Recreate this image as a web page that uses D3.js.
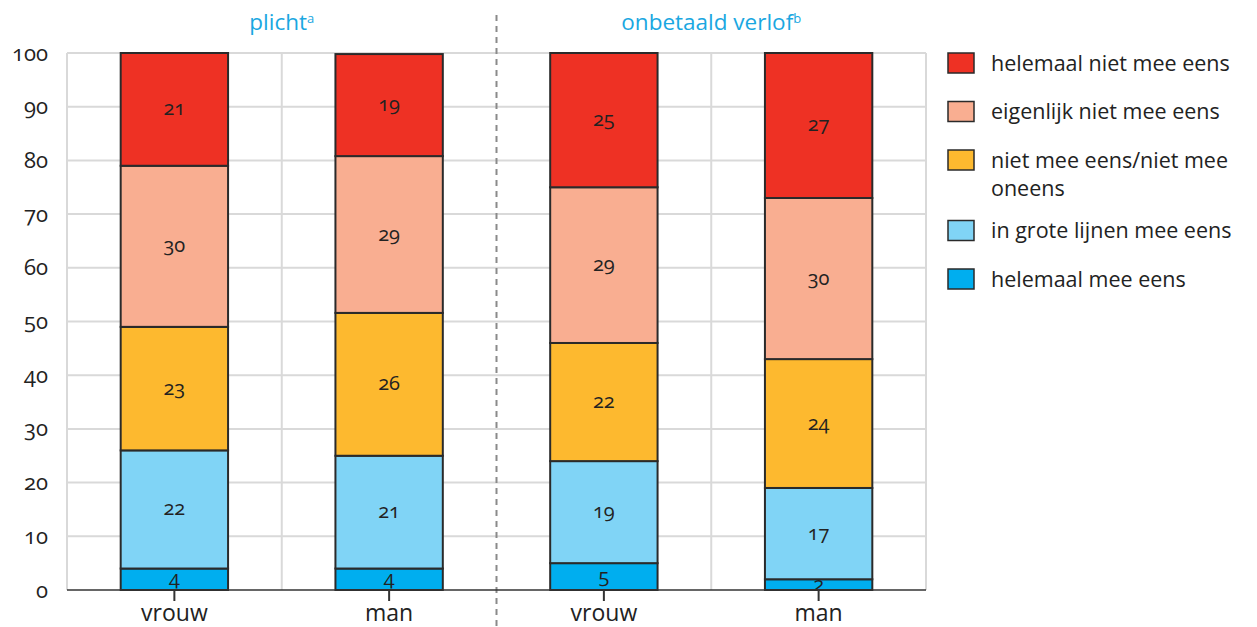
<!DOCTYPE html>
<html>
<head>
<meta charset="utf-8">
<script src="https://cdn.jsdelivr.net/npm/d3@7"></script>
<style>
  body { margin: 0; background: #fff; }
  svg text { font-family: "Open Sans", "Noto Sans", sans-serif; fill: #222; }
  .num { font-feature-settings: "onum" 1; font-variant-numeric: oldstyle-nums; }
</style>
</head>
<body>
<div id="chart"></div>
<script>
// categories
const groups = ["plicht", "onbetaald verlof"];
const groupNotes = ["a", "b"];
const bars = [
    { group: "plicht", sex: "vrouw" },
    { group: "plicht", sex: "man" },
    { group: "onbetaald verlof", sex: "vrouw" },
    { group: "onbetaald verlof", sex: "man" }
];
// answer categories, bottom to top
const answers = [
    "helemaal mee eens",
    "in grote lijnen mee eens",
    "niet mee eens/niet mee oneens",
    "eigenlijk niet mee eens",
    "helemaal niet mee eens"
];
const answerColors = ["#00aeef", "#80d4f6", "#fdb92f", "#f9ae91", "#ee3124"];

// segment heights (bottom to top), and printed labels
const values = [
    [4, 22, 23, 30, 21],
    [4.0, 21.0, 26.6, 29.2, 19.0],
    [5, 19, 22, 29, 25],
    [2, 17, 24, 30, 27]
];
const labels = [
    [4, 22, 23, 30, 21],
    [4, 21, 26, 29, 19],
    [5, 19, 22, 29, 25],
    [2, 17, 24, 30, 27]
];
const yTicks = [0, 10, 20, 30, 40, 50, 60, 70, 80, 90, 100];

// legend order, top to bottom (wrapped lines)
const legendItems = [
    ["helemaal niet mee eens"],
    ["eigenlijk niet mee eens"],
    ["niet mee eens/niet mee", "oneens"],
    ["in grote lijnen mee eens"],
    ["helemaal mee eens"]
];

const width = 1257, height = 627;
const margin = { top: 53, left: 67, right: 331, bottom: 37 };
const plotW = width - margin.left - margin.right;
const plotH = height - margin.top - margin.bottom;

const svg = d3.select("#chart").append("svg")
    .attr("width", width)
    .attr("height", height);

const g = svg.append("g").attr("transform", `translate(${margin.left},${margin.top})`);

const x = d3.scaleBand()
    .domain(d3.range(bars.length))
    .range([0, plotW])
    .paddingInner(0)
    .paddingOuter(0);

const y = d3.scaleLinear().domain([0, 100]).range([plotH, 0]);

const barW = x.bandwidth() * 0.5;

// horizontal gridlines
g.append("g").selectAll("line")
    .data(yTicks.filter(d => d > 0))
    .join("line")
    .attr("x1", 0).attr("x2", plotW)
    .attr("y1", d => y(d)).attr("y2", d => y(d))
    .attr("stroke", "#d9d9d9").attr("stroke-width", 2);

// vertical gridlines (except the group separator)
const vLines = d3.range(bars.length + 1).filter(i => i !== 2);
g.append("g").selectAll("line")
    .data(vLines)
    .join("line")
    .attr("x1", i => i * x.step()).attr("x2", i => i * x.step())
    .attr("y1", 0).attr("y2", plotH)
    .attr("stroke", "#d9d9d9").attr("stroke-width", 2);

// dashed group separator
g.append("line")
    .attr("x1", 2 * x.step()).attr("x2", 2 * x.step())
    .attr("y1", -38).attr("y2", height - margin.top)
    .attr("stroke", "#8a8a8a").attr("stroke-width", 2)
    .attr("stroke-dasharray", "6,5");

// stacked bars
const barG = g.selectAll(".bar")
    .data(bars)
    .join("g")
    .attr("class", "bar")
    .attr("transform", (d, i) => `translate(${x(i) + (x.bandwidth() - barW) / 2},0)`);

barG.each(function (d, i) {
    let cum = 0;
    const segs = values[i].map((v, k) => {
        const s = { y0: cum, y1: cum + v, k, label: labels[i][k] };
        cum += v;
        return s;
    });
    const sel = d3.select(this);
    sel.selectAll("rect")
        .data(segs)
        .join("rect")
        .attr("x", 0)
        .attr("width", barW)
        .attr("y", s => y(s.y1))
        .attr("height", s => y(s.y0) - y(s.y1))
        .attr("fill", s => answerColors[s.k])
        .attr("stroke", "#2a2a2a")
        .attr("stroke-width", 2);
    sel.selectAll("text")
        .data(segs)
        .join("text")
        .attr("class", "num")
        .attr("x", barW / 2)
        .attr("y", s => (y(s.y0) + y(s.y1)) / 2)
        .attr("dy", "0.3em")
        .attr("text-anchor", "middle")
        .style("font-size", "20px")
        .text(s => s.label);
});

// x axis baseline and ticks
g.append("line")
    .attr("x1", 0).attr("x2", plotW)
    .attr("y1", plotH).attr("y2", plotH)
    .attr("stroke", "#333").attr("stroke-width", 1.5);

const xAxis = g.append("g")
    .attr("transform", `translate(0,${plotH})`)
    .call(d3.axisBottom(x).tickSize(11).tickPadding(4).tickFormat(i => bars[i].sex));
xAxis.select(".domain").remove();
xAxis.selectAll(".tick line").attr("stroke", "#333").attr("stroke-width", 2);
xAxis.selectAll(".tick text")
    .style("font-size", "23px")
    .style("font-family", "'Open Sans', sans-serif")
    .attr("fill", "#222");

// y axis labels
const yAxis = g.append("g")
    .call(d3.axisLeft(y).tickValues(yTicks).tickSize(0).tickPadding(19));
yAxis.select(".domain").remove();
yAxis.selectAll(".tick text")
    .attr("class", "num")
    .style("font-size", "22px")
    .style("font-family", "'Open Sans', sans-serif")
    .attr("fill", "#222");

// group titles
const titles = svg.append("g").selectAll("text")
    .data(groups)
    .join("text")
    .attr("x", (d, i) => margin.left + (2 * i + 1) * x.step())
    .attr("y", 30)
    .attr("text-anchor", "middle")
    .style("font-size", "22.5px")
    .style("fill", "#1aa7e1");
titles.append("tspan").text(d => d);
titles.append("tspan")
    .attr("dy", "-0.55em")
    .style("font-size", "13px")
    .text((d, i) => groupNotes[i]);

// legend
const legend = svg.append("g").attr("transform", "translate(948,0)");
let ly = 63;
legendItems.forEach((lines, i) => {
    const item = legend.append("g").attr("transform", `translate(0,${ly})`);
    item.append("rect")
        .attr("x", 0).attr("y", -10)
        .attr("width", 26).attr("height", 20)
        .attr("fill", answerColors[answers.length - 1 - i])
        .attr("stroke", "#2a2a2a").attr("stroke-width", 1.5);
    item.selectAll("text")
        .data(lines)
        .join("text")
        .attr("x", 43)
        .attr("y", (t, j) => j * 28)
        .attr("dy", "0.35em")
        .style("font-size", "21.5px")
        .text(t => t);
    ly += 48.5 + (lines.length - 1) * 22;
});
</script>
</body>
</html>
